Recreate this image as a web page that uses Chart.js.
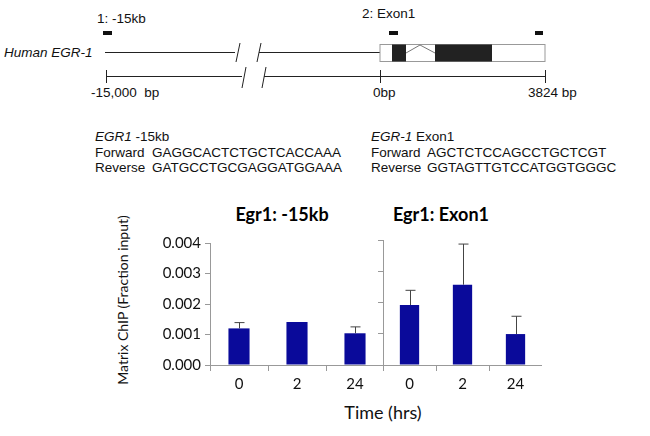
<!DOCTYPE html>
<html><head><meta charset="utf-8">
<script src="https://cdn.jsdelivr.net/npm/chart.js@4"></script>
<style>
body{margin:0;width:650px;height:436px;background:#fff;position:relative;overflow:hidden;font-family:"Liberation Sans",Arial,sans-serif}
.t{position:absolute;white-space:nowrap;font-size:13.5px;color:#111;line-height:1}
.ct{position:absolute;font-family:Lato,sans-serif;font-weight:bold;font-size:18px;line-height:1;transform:translateX(-50%);white-space:nowrap}
canvas{position:absolute}
</style></head><body>
<svg width="650" height="110" style="position:absolute;left:0;top:0" stroke="#222" fill="none">
  <rect x="103" y="31" width="9" height="4" fill="#111" stroke="none"/>
  <rect x="389" y="31" width="9" height="4" fill="#111" stroke="none"/>
  <rect x="535" y="31" width="8" height="4" fill="#111" stroke="none"/>
  <line x1="105" y1="52.5" x2="235" y2="52.5"/>
  <line x1="259" y1="52.5" x2="380" y2="52.5"/>
  <line x1="240" y1="43" x2="236" y2="62"/>
  <line x1="261" y1="43" x2="257" y2="62"/>
  <rect x="380" y="44.5" width="165" height="17" stroke="#999"/>
  <rect x="392" y="44.5" width="14" height="17" fill="#222" stroke="none"/>
  <rect x="435" y="44.5" width="57" height="17" fill="#222" stroke="none"/>
  <polyline points="406,53 420,45 435,53" stroke="#777"/>
  <line x1="106" y1="76.5" x2="242" y2="76.5"/>
  <line x1="264" y1="76.5" x2="545" y2="76.5"/>
  <line x1="246" y1="67" x2="242" y2="88"/>
  <line x1="266" y1="67" x2="262" y2="88"/>
  <line x1="106.5" y1="70" x2="106.5" y2="83"/>
  <line x1="380.5" y1="70" x2="380.5" y2="83"/>
  <line x1="545.5" y1="70" x2="545.5" y2="83"/>
</svg>
<div class="t" style="left:97px;top:12px">1: -15kb</div>
<div class="t" style="left:362px;top:7px">2: Exon1</div>
<div class="t" style="left:4px;top:46px;font-style:italic">Human EGR-1</div>
<div class="t" style="left:91px;top:86px">-15,000&nbsp; bp</div>
<div class="t" style="left:373px;top:86px">0bp</div>
<div class="t" style="left:528px;top:86px">3824 bp</div>
<div class="t" style="left:95px;top:130px"><i>EGR1</i> -15kb</div>
<div class="t" style="left:95px;top:146px">Forward</div>
<div class="t" style="left:152px;top:146px">GAGGCACTCTGCTCACCAAA</div>
<div class="t" style="left:95px;top:161px">Reverse</div>
<div class="t" style="left:152px;top:161px">GATGCCTGCGAGGATGGAAA</div>
<div class="t" style="left:371px;top:130px"><i>EGR-1</i> Exon1</div>
<div class="t" style="left:371px;top:146px">Forward</div>
<div class="t" style="left:427px;top:146px">AGCTCTCCAGCCTGCTCGT</div>
<div class="t" style="left:371px;top:161px">Reverse</div>
<div class="t" style="left:427px;top:161px">GGTAGTTGTCCATGGTGGGC</div>
<div class="ct" style="left:282px;top:205px">Egr1: -15kb</div>
<div class="ct" style="left:441px;top:205px">Egr1: Exon1</div>
<div class="t" style="font-family:Lato,sans-serif;font-size:14px;left:123px;top:300px;transform:translate(-50%,-50%) rotate(-90deg)">Matrix ChIP (Fraction input)</div>
<div class="t" style="font-family:Lato,sans-serif;font-size:18px;left:383px;top:403px;transform:translateX(-50%)">Time (hrs)</div>
<canvas id="c1" style="left:150px;top:230px" width="234" height="165"></canvas>
<canvas id="c2" style="left:377px;top:227px" width="165" height="168"></canvas>
<script>
const times = ["0", "2", "24"];
const minus15Vals = [0.00120, 0.00141, 0.00104];
const minus15Err = [0.00019, 0, 0.00021];
const exon1Vals = [0.00192, 0.00257, 0.00099];
const exon1Err = [0.00047, 0.00130, 0.00057];
const yTicks = [0, 0.001, 0.002, 0.003, 0.004];

const errPlugin = {
  id: "err",
  afterDatasetsDraw(chart) {
    const { ctx, scales: { x, y } } = chart;
    const ds = chart.data.datasets[0];
    ctx.save();
    ctx.strokeStyle = "#444";
    ctx.lineWidth = 1;
    ds.data.forEach((v, i) => {
      const e = ds.err[i];
      if (!e) return;
      const px = Math.round(x.getPixelForValue(i)) + 0.5;
      const top = y.getPixelForValue(v + e);
      ctx.beginPath();
      ctx.moveTo(px, y.getPixelForValue(v));
      ctx.lineTo(px, top);
      ctx.moveTo(px - 5, top);
      ctx.lineTo(px + 5, top);
      ctx.stroke();
    });
    ctx.restore();
  }
};

function makeChart(id, vals, err, showLabels, padTop, padLeft, yWidth) {
  return new Chart(document.getElementById(id), {
    type: "bar",
    data: { labels: times, datasets: [{ data: vals, err, backgroundColor: "#0a0a9a", barPercentage: 0.7, categoryPercentage: 0.52 }] },
    options: {
      responsive: false, animation: false,
      layout: { padding: { top: padTop, left: padLeft, right: 0 } },
      plugins: { legend: { display: false }, tooltip: { enabled: false } },
      scales: {
        x: {
          afterFit: s => { s.height = 30; },
          grid: { offset: true, drawOnChartArea: false, color: "#999", tickLength: 6 },
          border: { color: "#999" },
          ticks: { color: "#111", font: { family: "Lato", size: 15 }, padding: 4 }
        },
        y: {
          min: 0, max: 0.004,
          afterFit: s => { s.width = yWidth; },
          afterBuildTicks: s => { s.ticks = yTicks.map(v => ({ value: v })); },
          grid: { drawOnChartArea: false, color: "#999", tickLength: 5 },
          border: { color: "#999" },
          ticks: { color: "#111", font: { family: "Lato", size: 15 }, padding: 4,
                   callback: v => showLabels ? v.toFixed(3) : "" }
        }
      }
    },
    plugins: [errPlugin]
  });
}
makeChart("c1", minus15Vals, minus15Err, true, 11, 0, 60);
makeChart("c2", exon1Vals, exon1Err, false, 11, 5, 1);
</script>
</body></html>
